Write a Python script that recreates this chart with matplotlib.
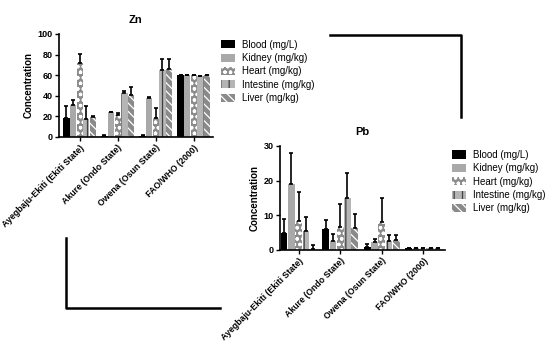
import matplotlib
matplotlib.use("Agg")
import matplotlib.pyplot as plt
import numpy as np
from matplotlib.lines import Line2D
from matplotlib.patches import Patch

plt.rcParams['font.family'] = ['Liberation Sans', 'DejaVu Sans']
plt.rcParams['hatch.linewidth'] = 0.9

sites = ["Ayegbaju-Ekiti (Ekiti State)", "Akure (Ondo State)", "Owena (Osun State)", "FAO/WHO (2000)"]
tissues = ["Blood (mg/L)", "Kidney (mg/kg)", "Heart (mg/kg)", "Intestine (mg/kg)", "Liver (mg/kg)"]

# Zn means / upper errors, one list per tissue across sites
zn_blood = [18, 1, 1, 60]
zn_kidney = [31, 24, 38, 60]
zn_heart = [72, 21, 18, 60]
zn_intestine = [17, 43, 65, 59]
zn_liver = [19, 41, 66, 60]
zn_blood_err = [12, 0.5, 0.5, 0]
zn_kidney_err = [5, 0.5, 0.5, 0]
zn_heart_err = [9, 2, 10, 0]
zn_intestine_err = [13, 2, 11, 0]
zn_liver_err = [1, 7, 10, 0]

pb_blood = [5, 6, 0.8, 0.5]
pb_kidney = [19, 2.5, 2.3, 0.5]
pb_heart = [8.3, 6.5, 8, 0.5]
pb_intestine = [5.5, 15, 2.5, 0.5]
pb_liver = [0.2, 6.3, 2.8, 0.5]
pb_blood_err = [4, 2.7, 1, 0]
pb_kidney_err = [9, 2.2, 0.8, 0]
pb_heart_err = [8.5, 6.7, 7, 0]
pb_intestine_err = [4, 7.3, 1.8, 0]
pb_liver_err = [1.3, 4, 1.5, 0]

styles = [
    dict(facecolor='black', hatch=None, hcolor='black'),
    dict(facecolor='#a9a9a9', hatch=None, hcolor='#a9a9a9'),
    dict(facecolor='#8c8c8c', hatch='ooo', hcolor='white'),
    dict(facecolor='#b5b5b5', hatch='||', hcolor='#404040'),
    dict(facecolor='#8a8a8a', hatch='\\\\\\\\', hcolor='white'),
]

fig = plt.figure(figsize=(5.5, 3.5), dpi=100)

def draw(ax, vals, errs, title, yticks, ylim, xlim):
    x = np.arange(len(sites))
    w = 0.175
    for i, (v, e, st) in enumerate(zip(vals, errs, styles)):
        pos = x + (i - 2) * w
        ax.bar(pos, v, w * 0.92, color=st['facecolor'], edgecolor=st['hcolor'],
               hatch=st['hatch'], linewidth=0, zorder=2)
        ax.errorbar(pos, v, yerr=[np.zeros(len(e)), e], fmt='none', ecolor='black',
                    elinewidth=1.2, capsize=1.6, capthick=1.2, zorder=3)
    ax.set_xlim(*xlim)
    ax.set_ylim(*ylim)
    ax.set_yticks(yticks)
    ax.set_xticks(x)
    ax.set_xticklabels(sites, rotation=45, ha='right', rotation_mode='anchor',
                       fontsize=6.3, fontweight='bold')
    for lab in ax.get_yticklabels():
        lab.set_fontsize(6.5)
        lab.set_fontweight('bold')
    ax.spines['top'].set_visible(False)
    ax.spines['right'].set_visible(False)
    ax.spines['left'].set_linewidth(1.2)
    ax.spines['bottom'].set_linewidth(1.2)
    ax.tick_params(axis='both', length=3, width=1, pad=1.5)
    ax.set_ylabel("Concentration", fontsize=7, fontweight='bold', labelpad=3)
    ax.set_title(title, fontsize=8, fontweight='bold', pad=8)
    handles = [Patch(facecolor=st['facecolor'], edgecolor=st['hcolor'], hatch=st['hatch'],
                     linewidth=0, label=t) for st, t in zip(styles, tissues)]
    return handles

leg_kw = dict(loc='upper left', frameon=False, handlelength=1.4,
              handleheight=0.9, labelspacing=0.35, handletextpad=0.7, borderaxespad=0,
              prop={'family': ['Liberation Sans Narrow', 'Liberation Sans'], 'size': 7})

ax1 = fig.add_axes([0.107, 0.609, 0.280, 0.294])
h = draw(ax1, [zn_blood, zn_kidney, zn_heart, zn_intestine, zn_liver],
         [zn_blood_err, zn_kidney_err, zn_heart_err, zn_intestine_err, zn_liver_err],
         "Zn", [0, 20, 40, 60, 80, 100], (0, 100), (-0.55, 3.5))
fig.legend(handles=h, bbox_to_anchor=(0.395, 0.898), **leg_kw)

ax2 = fig.add_axes([0.509, 0.286, 0.300, 0.297])
h = draw(ax2, [pb_blood, pb_kidney, pb_heart, pb_intestine, pb_liver],
         [pb_blood_err, pb_kidney_err, pb_heart_err, pb_intestine_err, pb_liver_err],
         "Pb", [0, 10, 20, 30], (0, 30), (-0.45, 3.52))
fig.legend(handles=h, bbox_to_anchor=(0.815, 0.583), **leg_kw)

# decorative bracket lines
W, H = 550.0, 350.0
def fl(xs, ys):
    fig.add_artist(Line2D([v / W for v in xs], [1 - v / H for v in ys],
                          color='black', linewidth=1.8, transform=fig.transFigure))
fl([330, 461, 461], [35, 35, 117])
fl([66, 66, 220], [238, 308, 308])

fig.savefig("out.png", dpi=100)
